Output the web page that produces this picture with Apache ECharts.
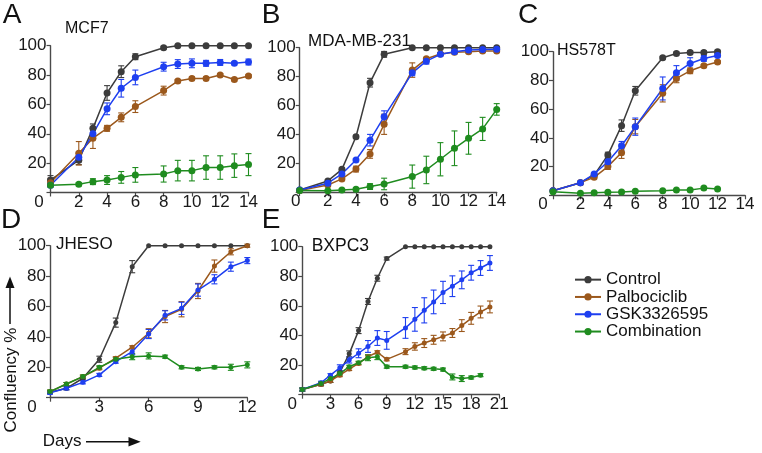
<!DOCTYPE html>
<html>
<head>
<meta charset="utf-8">
<script src="https://cdn.jsdelivr.net/npm/echarts@6/dist/echarts.min.js"></script>
<style>html,body{margin:0;padding:0;background:#fff}#c{width:762px;height:453px}</style>
</head>
<body>
<div id="c"></div>
<script>
// ---------- DATA ----------
const seriesNames = ['Control', 'Palbociclib', 'GSK3326595', 'Combination'];

// Panel A: MCF7
const aDays = [0, 2, 3, 4, 5, 6, 8, 9, 10, 11, 12, 13, 14];
const aControl = [8.5, 22, 43.7, 67.8, 82.3, 92.5, 98.6, 100, 100, 100, 100, 100, 100];
const aPalbo = [6.7, 26.7, 37, 43.7, 51.2, 58.5, 69.4, 75.9, 77.7, 77.7, 80, 77, 79.3];
const aGsk = [5, 24, 40, 57, 71, 78.4, 85.7, 87.5, 88, 88, 88.6, 88, 88.9];
const aCombo = [5, 5.6, 7.4, 8.5, 10.3, 12, 12.6, 14.9, 14.9, 17, 17, 18.3, 19];
const aControlErr = [3, 3, 3, 5, 4, 2, 1, 0, 0, 0, 0, 0, 0];
const aPalboErr = [3, 8, 7, 2, 3, 4, 3, 1, 1, 1, 1, 1, 1];
const aGskErr = [1, 3, 2, 4, 6, 5, 3, 3, 3, 2, 2, 1, 2];
const aComboErr = [1, 1, 2, 3, 4, 5, 5.5, 7, 7, 8, 8, 8, 7.5];

// Panel B: MDA-MB-231
const bDays = [0, 2, 3, 4, 5, 6, 8, 9, 10, 11, 12, 13, 14];
const bControl = [1.5, 7.8, 15.8, 38.4, 75.8, 95.4, 100, 100, 100, 100, 100, 100, 100];
const bPalbo = [1.1, 5, 9.2, 16, 26.5, 47, 84.5, 92.3, 95.6, 96.8, 97.2, 97.7, 97.7];
const bGsk = [1.5, 6.2, 12.6, 22.3, 36, 52.3, 82.6, 90.7, 95.4, 97.2, 98.4, 98.8, 99];
const bCombo = [1.1, 1, 1.5, 2, 3.9, 5.7, 10.8, 15.4, 22.8, 30.4, 37.3, 43.8, 57.3];
const bControlErr = [0, 0, 1, 1, 3, 2, 0, 0, 0, 0, 0, 0, 0];
const bPalboErr = [0, 1, 1, 2, 3, 7, 5, 1, 1, 1, 1, 1, 1];
const bGskErr = [0, 1, 1, 1, 4, 4, 2, 2, 1, 1, 1, 1, 1];
const bComboErr = [0, 0, 1, 1, 2, 4, 8, 9.5, 11.5, 12, 11, 8, 4];

// Panel C: HS578T
const cDays = [0, 2, 3, 4, 5, 6, 8, 9, 10, 11, 12];
const cControl = [3.2, 8.8, 14, 28, 48.5, 72.8, 95.8, 98.8, 99.5, 99.5, 100];
const cPalbo = [3.2, 8.8, 12.5, 20, 29.7, 47.8, 71, 81.4, 86.7, 90.2, 92.8];
const cGsk = [3.2, 8.8, 14.8, 23.4, 34.5, 47.8, 74.4, 85.3, 91.8, 95.3, 97.4];
const cCombo = [2.5, 1.4, 1.8, 2.1, 2.3, 2.8, 3.2, 3.7, 3.7, 5, 4.4];
const cControlErr = [0, 0, 1, 2, 4, 3, 1, 1, 1, 1, 1];
const cPalboErr = [0, 0, 1, 2, 4, 5, 6, 3, 2, 1, 1];
const cGskErr = [0, 0, 1, 2, 3, 6, 8, 5, 4, 2, 1];
const cComboErr = [0, 0, 0, 0, 0, 0, 0, 0, 0, 0, 0];

// Panel D: JHESO
const dDays = [0, 1, 2, 3, 4, 5, 6, 7, 8, 9, 10, 11, 12];
const dControl = [3.6, 6.2, 12.8, 25.3, 49.4, 86.2, 100, 100, 100, 100, 100, 100, 100];
const dPalbo = [4, 9, 13.9, 19.4, 26, 33.2, 42.4, 53.4, 58.2, 70.2, 86.6, 96, 100];
const dGsk = [3.3, 6.2, 10.1, 15, 23.7, 30.3, 41.9, 54.2, 58.8, 70.8, 77.9, 86.2, 90.2];
const dCombo = [4, 9, 13.9, 20, 25.3, 27, 27.5, 27, 20, 18.9, 20, 20, 21.6];
const dControlErr = [1, 1, 1, 2, 3, 4, 0, 0, 0, 0, 0, 0, 0];
const dPalboErr = [1, 1, 1, 1, 1, 1, 3, 4, 5, 5, 4, 2, 1];
const dGskErr = [1, 1, 1, 1, 1, 2, 3, 3, 4, 4, 3, 3, 2];
const dComboErr = [1, 1, 1, 1, 1, 2, 2, 1, 1, 1, 1, 2, 2];

// Panel E: BXPC3
const eDays = [0, 2, 3, 4, 5, 6, 7, 8, 9, 11, 12, 13, 14, 15, 16, 17, 18, 19, 20];
const eControl = [3.5, 7, 9.3, 15, 27.6, 43.3, 63, 78.7, 92, 100, 100, 100, 100, 100, 100, 100, 100, 100, 100];
const ePalbo = [3.5, 7, 9.3, 13.2, 17.3, 21.1, 25.7, 28.7, 23.9, 29.1, 32.6, 34.9, 37.1, 39.4, 41.7, 46.7, 51.6, 55.9, 59.3];
const eGsk = [3.5, 8.1, 13.2, 18.2, 23.4, 28, 32.6, 38.3, 36.7, 45.1, 50.9, 57, 62.7, 69.1, 73.3, 77.6, 82.4, 85.6, 89];
const eCombo = [3.5, 7.6, 10.9, 14.3, 18.9, 21.6, 25, 25.7, 18.9, 18.9, 18.4, 17.9, 17.5, 17, 12, 10.9, 11.6, 13.2, null];
const eControlErr = [1, 1, 1, 1, 2, 2, 2, 2, 1, 0, 0, 0, 0, 0, 0, 0, 0, 0, 0];
const ePalboErr = [1, 1, 1, 1, 1, 1, 1, 1, 1, 2, 2.5, 3, 3, 3, 3, 4, 4, 4, 4];
const eGskErr = [1, 1, 1, 2, 2, 3, 4, 5, 6, 7, 8, 8.5, 8, 7.5, 7, 6, 5, 5, 5];
const eComboErr = [1, 1, 1, 1, 1, 1, 2, 2, 1, 1, 1, 1, 1, 1, 2, 2, 1, 1, null];

const panelTitles = ['MCF7', 'MDA-MB-231', 'HS578T', 'JHESO', 'BXPC3'];
const panelLetters = ['A', 'B', 'C', 'D', 'E'];
const xMax = [14, 14, 14, 12, 21];
const xStep = [2, 2, 2, 3, 3];

// ---------- LAYOUT / STYLE ----------
const FONT = '"Liberation Sans", Arial, sans-serif';
const colors = ['#3c3c3c', '#9b581c', '#1e3ff0', '#1f8c1f'];
const grids = [
  { left: 50.5, top: 45.7, width: 198, height: 146.8 },
  { left: 299.7, top: 47.7, width: 197, height: 144.5 },
  { left: 553, top: 51.7, width: 192, height: 143.6 },
  { left: 50, top: 245.7, width: 197.3, height: 152 },
  { left: 302.3, top: 246.7, width: 197, height: 148 }
];
const zeroShift = [11.5, 4, 10, 18, 10];
const symSizes = [7, 7, 7, 5, 5];

const panels = [
  { days: aDays, vals: [aControl, aPalbo, aGsk, aCombo], errs: [aControlErr, aPalboErr, aGskErr, aComboErr] },
  { days: bDays, vals: [bControl, bPalbo, bGsk, bCombo], errs: [bControlErr, bPalboErr, bGskErr, bComboErr] },
  { days: cDays, vals: [cControl, cPalbo, cGsk, cCombo], errs: [cControlErr, cPalboErr, cGskErr, cComboErr] },
  { days: dDays, vals: [dControl, dPalbo, dGsk, dCombo], errs: [dControlErr, dPalboErr, dGskErr, dComboErr] },
  { days: eDays, vals: [eControl, ePalbo, eGsk, eCombo], errs: [eControlErr, ePalboErr, eGskErr, eComboErr] }
];

const axisLine = { show: true, lineStyle: { color: '#4a4a4a', width: 1.4 } };
const xAxes = [], yAxes = [], series = [];

panels.forEach((p, i) => {
  xAxes.push({
    type: 'value', gridIndex: i, min: 0, max: xMax[i], interval: xStep[i],
    axisLine: axisLine, splitLine: { show: false },
    axisTick: { show: true, length: 4, lineStyle: { color: '#4a4a4a', width: 1.2 } },
    axisLabel: {
      margin: 1, fontSize: 17, color: '#1a1a1a', fontFamily: FONT, showMinLabel: true, showMaxLabel: true,
      formatter: v => v === 0 ? '{z|0}' : String(v),
      rich: { z: { fontSize: 17, color: '#1a1a1a', fontFamily: FONT, padding: [0, zeroShift[i] * 2, 0, 0] } }
    }
  });
  yAxes.push({
    type: 'value', gridIndex: i, min: 0, max: 100, interval: 20,
    axisLine: axisLine, splitLine: { show: false },
    axisTick: { show: true, length: 4, lineStyle: { color: '#4a4a4a', width: 1.2 } },
    axisLabel: {
      margin: 4, fontSize: 17, color: '#1a1a1a', fontFamily: FONT,
      formatter: v => v === 0 ? '' : String(v)
    }
  });
  p.vals.forEach((vals, k) => {
    const color = colors[k];
    const errData = [];
    const lineData = [];
    p.days.forEach((d, j) => {
      if (vals[j] == null) return;
      lineData.push([d, vals[j]]);
      errData.push([d, vals[j], p.errs[k][j] || 0]);
    });
    series.push({
      type: 'custom', name: seriesNames[k] + ' error', xAxisIndex: i, yAxisIndex: i,
      data: errData, encode: { x: 0, y: 1 }, z: 2, silent: true,
      renderItem: function (params, api) {
        const x = api.value(0), y = api.value(1), e = api.value(2);
        if (!e) return { type: 'group', children: [] };
        const t = api.coord([x, y + e]), b = api.coord([x, y - e]);
        const w = 3;
        const st = { stroke: color, lineWidth: 1.1 };
        return {
          type: 'group', children: [
            { type: 'line', shape: { x1: t[0], y1: t[1], x2: b[0], y2: b[1] }, style: st },
            { type: 'line', shape: { x1: t[0] - w, y1: t[1], x2: t[0] + w, y2: t[1] }, style: st },
            { type: 'line', shape: { x1: b[0] - w, y1: b[1], x2: b[0] + w, y2: b[1] }, style: st }
          ]
        };
      }
    });
    series.push({
      type: 'line', name: seriesNames[k], xAxisIndex: i, yAxisIndex: i,
      data: lineData, symbol: 'circle', symbolSize: symSizes[i], showSymbol: true,
      lineStyle: { color: color, width: 1.5 }, itemStyle: { color: color },
      z: 3, animation: false
    });
  });
});

// ---------- TEXT DECORATIONS ----------
const letterPos = [[12, 15.5], [271, 15.5], [528, 15.5], [11, 220], [271, 220]];
const titlePos = [[65, 29, 16], [308, 41, 17], [557, 51, 16], [56, 244.5, 17], [311.7, 246, 17.5]];
const graphic = [];
panelLetters.forEach((t, i) => {
  graphic.push({ type: 'text', x: letterPos[i][0], y: letterPos[i][1], silent: true,
    style: { text: t, font: '28px ' + FONT, fill: '#111', textAlign: 'center', textVerticalAlign: 'middle' } });
});
panelTitles.forEach((t, i) => {
  graphic.push({ type: 'text', x: titlePos[i][0], y: titlePos[i][1], silent: true,
    style: { text: t, font: titlePos[i][2] + 'px ' + FONT, fill: '#111', textAlign: 'left', textVerticalAlign: 'middle' } });
});
// Y axis name with arrow
graphic.push({ type: 'text', x: 11.5, y: 380, rotation: Math.PI / 2, silent: true,
  style: { text: 'Confluency %', font: '17px ' + FONT, fill: '#111', textAlign: 'center', textVerticalAlign: 'middle' } });
graphic.push({ type: 'line', silent: true, shape: { x1: 10, y1: 324, x2: 10, y2: 284 }, style: { stroke: '#111', lineWidth: 1.5 } });
graphic.push({ type: 'polygon', silent: true, shape: { points: [[10, 276.5], [5.5, 288], [14.5, 288]] }, style: { fill: '#111' } });
// X axis name with arrow
graphic.push({ type: 'text', x: 42.7, y: 441.5, silent: true,
  style: { text: 'Days', font: '17px ' + FONT, fill: '#111', textAlign: 'left', textVerticalAlign: 'middle' } });
graphic.push({ type: 'line', silent: true, shape: { x1: 86, y1: 441.7, x2: 132, y2: 441.7 }, style: { stroke: '#111', lineWidth: 1.5 } });
graphic.push({ type: 'polygon', silent: true, shape: { points: [[140.7, 441.7], [128.5, 437], [128.5, 446.4]] }, style: { fill: '#111' } });

const chart = echarts.init(document.getElementById('c'), null, { renderer: 'canvas' });
chart.setOption({
  animation: false,
  backgroundColor: '#fff',
  textStyle: { fontFamily: FONT },
  grid: grids.map(g => Object.assign({ containLabel: false }, g)),
  xAxis: xAxes,
  yAxis: yAxes,
  legend: {
    data: seriesNames, orient: 'vertical', left: 574, top: 271, padding: 0,
    itemWidth: 26, itemHeight: 9, itemGap: 0, selectedMode: false,
    textStyle: { fontSize: 17, lineHeight: 17.3, color: '#111', fontFamily: FONT }
  },
  graphic: graphic,
  series: series
});
</script>
</body>
</html>
